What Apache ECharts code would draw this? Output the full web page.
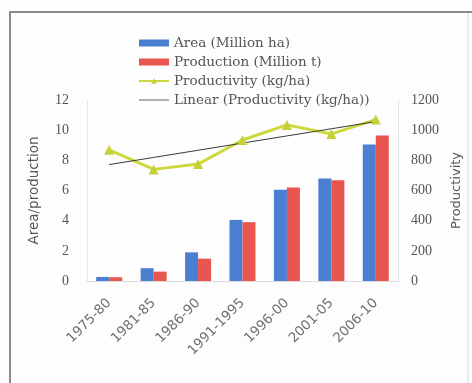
<!DOCTYPE html>
<html><head><meta charset="utf-8">
<script src="https://cdn.jsdelivr.net/npm/echarts@6/dist/echarts.min.js"></script>
<style>html,body{margin:0;padding:0;background:#fdfdfe;}#c{width:472px;height:383px;}</style>
</head><body><div id="c"></div>
<script>
const categories = ['1975-80','1981-85','1986-90','1991-1995','1996-00','2001-05','2006-10'];
const area = [0.27, 0.85, 1.9, 4.05, 6.05, 6.8, 9.05];
const production = [0.25, 0.62, 1.48, 3.9, 6.2, 6.68, 9.65];
const productivity = [870, 740, 775, 935, 1035, 975, 1070];
const leftTicks = [0, 12, 2];
const rightTicks = [0, 1200, 200];

// Linear trend (least squares) of productivity, as Excel's "Linear" trendline
const n = productivity.length;
const mx = (n - 1) / 2;
const my = productivity.reduce((a, b) => a + b, 0) / n;
let sxy = 0, sxx = 0;
productivity.forEach((y, i) => { sxy += (i - mx) * (y - my); sxx += (i - mx) * (i - mx); });
const slope = sxy / sxx;
const trend = productivity.map((_, i) => +(my + slope * (i - mx)).toFixed(1));

const serif = '"Liberation Serif","DejaVu Serif",serif';
const dserif = '"DejaVu Serif","Liberation Serif",serif';
const dsans = '"DejaVu Sans","Liberation Sans",sans-serif';
const chart = echarts.init(document.getElementById('c'), null, {renderer: 'canvas'});
chart.setOption({
  backgroundColor: '#fdfdfe',
  animation: false,
  graphic: [
    {type: 'rect', shape: {x: 10, y: 12, width: 500, height: 400},
     style: {fill: 'none', stroke: '#8a8a90', lineWidth: 2}},
    {type: 'line', shape: {x1: 468, y1: 13, x2: 468, y2: 383},
     style: {stroke: '#ebe8f4', lineWidth: 2}}
  ],
  legend: {
    orient: 'vertical', left: 133, top: 31, itemGap: 5, itemWidth: 30, itemHeight: 7,
    textStyle: {fontFamily: dserif, fontSize: 13.5, lineHeight: 14, color: '#555'},
    data: [
      {name: 'Area (Million ha)', icon: 'rect'},
      {name: 'Production (Million t)', icon: 'rect'},
      {name: 'Productivity (kg/ha)'},
      {name: 'Linear (Productivity (kg/ha))', icon: 'path://M0,4.6 H30 V5.4 H0 Z'}
    ]
  },
  grid: {left: 87, right: 74, top: 100, height: 181, containLabel: false},
  xAxis: {
    type: 'category', data: categories,
    axisLine: {lineStyle: {color: '#dcdcdc'}},
    axisTick: {show: false},
    axisLabel: {rotate: 45, interval: 0, fontFamily: dsans, fontSize: 13.5, color: '#707070', margin: 20}
  },
  yAxis: [
    {type: 'value', min: leftTicks[0], max: leftTicks[1], interval: leftTicks[2],
     name: 'Area/production', nameLocation: 'middle', nameGap: 46, nameRotate: 90,
     nameTextStyle: {fontFamily: dsans, fontSize: 13.5, color: '#555'},
     axisLine: {show: true, lineStyle: {color: '#e6e6e6'}},
     axisTick: {show: false}, splitLine: {show: false},
     axisLabel: {fontFamily: serif, fontSize: 14, color: '#555', margin: 18}},
    {type: 'value', min: rightTicks[0], max: rightTicks[1], interval: rightTicks[2],
     name: 'Productivity', nameLocation: 'middle', nameGap: 50, nameRotate: 90,
     nameTextStyle: {fontFamily: dsans, fontSize: 13, color: '#555'},
     axisLine: {show: true, lineStyle: {color: '#e6e6e6'}},
     axisTick: {show: false}, splitLine: {show: false},
     axisLabel: {fontFamily: serif, fontSize: 14, color: '#555', margin: 13,
                 formatter: v => String(v)}}
  ],
  series: [
    {name: 'Area (Million ha)', type: 'bar', data: area, barWidth: 13, barGap: '0%',
     itemStyle: {color: '#4a7fd2'}},
    {name: 'Production (Million t)', type: 'bar', data: production, barWidth: 13,
     itemStyle: {color: '#e8564f'}},
    {name: 'Productivity (kg/ha)', type: 'line', yAxisIndex: 1, data: productivity,
     symbol: 'triangle', symbolSize: 10,
     lineStyle: {color: '#cdd83c', width: 3}, itemStyle: {color: '#c6d13a'}},
    {name: 'Linear (Productivity (kg/ha))', type: 'line', yAxisIndex: 1, data: trend,
     symbol: 'none', lineStyle: {color: '#3a3a3a', width: 1}, itemStyle: {color: '#3a3a3a'}}
  ]
});
</script></body></html>
